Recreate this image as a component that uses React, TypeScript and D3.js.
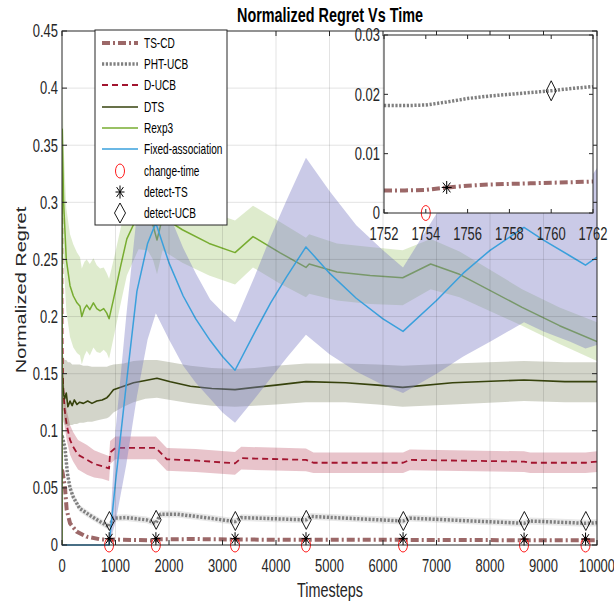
import React from 'react';
import * as d3 from 'd3';

// ---------------- DATA ----------------
const xTicks = [0, 1000, 2000, 3000, 4000, 5000, 6000, 7000, 8000, 9000, 10000];
const yTicks = [0, 0.05, 0.1, 0.15, 0.2, 0.25, 0.3, 0.35, 0.4, 0.45];
const insetXTicks = [1752, 1754, 1756, 1758, 1760, 1762];
const insetYTicks = [0, 0.01, 0.02, 0.03];

const legendNames = ['TS-CD', 'PHT-UCB', 'D-UCB', 'DTS', 'Rexp3', 'Fixed-association', 'change-time', 'detect-TS', 'detect-UCB'];

// TS-CD
const tscdT = [0, 5, 30, 56, 87, 150, 275, 460, 710, 880, 1000, 1754, 1800, 2500, 3234, 4560, 6374, 8636, 10000];
const tscdV = [0.065, 0.065, 0.058, 0.05, 0.031, 0.019, 0.0117, 0.0073, 0.005, 0.0045, 0.0048, 0.0039, 0.005, 0.0052, 0.0048, 0.0045, 0.0045, 0.0042, 0.0042];

// PHT-UCB
const phtT = [0, 5, 56, 100, 150, 210, 330, 520, 710, 880, 960, 1200, 1580, 1754, 1840, 2150, 2770, 3234, 3350, 4560, 4650, 6374, 6500, 8636, 8750, 9785, 10000];
const phtV = [0.095, 0.095, 0.085, 0.063, 0.05, 0.042, 0.032, 0.026, 0.0205, 0.016, 0.0235, 0.024, 0.022, 0.019, 0.027, 0.027, 0.0235, 0.0205, 0.024, 0.022, 0.025, 0.021, 0.0235, 0.019, 0.021, 0.019, 0.0195];
const phtSpread = [0, 0.004, 0.004, 0.004, 0.004, 0.004, 0.003, 0.003, 0.003, 0.003, 0.003, 0.003, 0.003, 0.003, 0.003, 0.003, 0.003, 0.003, 0.003, 0.003, 0.003, 0.003, 0.003, 0.003, 0.003, 0.003, 0.003];

// D-UCB
const ducbT = [0, 3, 10, 20, 50, 88, 150, 208, 300, 467, 600, 750, 880, 900, 1000, 1754, 1960, 2500, 3234, 3350, 4560, 4700, 6374, 6500, 8636, 8750, 9785, 10000];
const ducbV = [0.33, 0.32, 0.18, 0.14, 0.118, 0.105, 0.092, 0.086, 0.079, 0.0745, 0.071, 0.069, 0.067, 0.081, 0.085, 0.085, 0.075, 0.074, 0.0715, 0.076, 0.0745, 0.072, 0.072, 0.0745, 0.073, 0.072, 0.072, 0.073];
const ducbSpread = [0, 0.01, 0.015, 0.015, 0.014, 0.013, 0.013, 0.013, 0.013, 0.013, 0.012, 0.011, 0.011, 0.01, 0.01, 0.01, 0.01, 0.01, 0.01, 0.01, 0.01, 0.009, 0.009, 0.009, 0.009, 0.009, 0.009, 0.009];

// DTS
const dtsT = [0, 5, 25, 50, 80, 110, 150, 190, 230, 280, 330, 400, 480, 560, 650, 750, 840, 880, 962, 1150, 1337, 1560, 1775, 2025, 2400, 2800, 3234, 3600, 4000, 4560, 5300, 5900, 6368, 7300, 8636, 9400, 10000];
const dtsV = [0.15, 0.15, 0.133, 0.128, 0.133, 0.121, 0.126, 0.122, 0.127, 0.123, 0.125, 0.124, 0.126, 0.124, 0.126, 0.127, 0.129, 0.131, 0.136, 0.139, 0.142, 0.144, 0.146, 0.143, 0.139, 0.137, 0.136, 0.138, 0.14, 0.143, 0.142, 0.14, 0.138, 0.142, 0.1445, 0.143, 0.143];
const dtsHigh = [0.17, 0.17, 0.165, 0.162, 0.162, 0.16, 0.16, 0.158, 0.158, 0.158, 0.158, 0.157, 0.157, 0.156, 0.156, 0.156, 0.156, 0.157, 0.158, 0.159, 0.161, 0.162, 0.162, 0.16, 0.157, 0.155, 0.154, 0.155, 0.157, 0.159, 0.159, 0.158, 0.157, 0.159, 0.161, 0.16, 0.16];
const dtsLow = [0.12, 0.115, 0.108, 0.105, 0.105, 0.104, 0.105, 0.105, 0.106, 0.106, 0.107, 0.107, 0.108, 0.108, 0.109, 0.11, 0.111, 0.112, 0.116, 0.121, 0.125, 0.128, 0.129, 0.127, 0.124, 0.122, 0.121, 0.122, 0.123, 0.125, 0.125, 0.123, 0.121, 0.123, 0.126, 0.125, 0.125];

// Rexp3
const rexpT = [0, 5, 30, 80, 150, 212, 280, 337, 370, 420, 462, 520, 587, 650, 712, 780, 837, 880, 962, 1100, 1212, 1431, 1600, 1700, 1776, 1880, 2250, 2750, 3234, 3570, 4070, 4560, 4620, 5140, 5760, 6368, 6891, 7430, 8600, 9300, 10000];
const rexpV = [0, 0.364, 0.3, 0.25, 0.227, 0.218, 0.212, 0.209, 0.2, 0.207, 0.21, 0.206, 0.212, 0.207, 0.205, 0.207, 0.203, 0.198, 0.215, 0.245, 0.268, 0.29, 0.288, 0.28, 0.267, 0.287, 0.276, 0.264, 0.256, 0.27, 0.256, 0.243, 0.246, 0.239, 0.236, 0.234, 0.246, 0.237, 0.208, 0.192, 0.178];
const rexpSpread = [0, 0.06, 0.05, 0.045, 0.045, 0.045, 0.044, 0.043, 0.042, 0.041, 0.04, 0.04, 0.039, 0.038, 0.037, 0.036, 0.035, 0.035, 0.034, 0.033, 0.032, 0.031, 0.03, 0.03, 0.03, 0.029, 0.029, 0.028, 0.028, 0.027, 0.027, 0.026, 0.026, 0.025, 0.025, 0.024, 0.022, 0.02, 0.016, 0.016, 0.017];

// Fixed-association
const fixedT = [0, 880, 1000, 1200, 1400, 1600, 1754, 2000, 2265, 2500, 2770, 3000, 3234, 3600, 3900, 4200, 4560, 5000, 5500, 6000, 6374, 7000, 7500, 8000, 8636, 9000, 9500, 9785, 10000];
const fixedV = [0, 0, 0.055, 0.14, 0.222, 0.264, 0.282, 0.247, 0.218, 0.198, 0.179, 0.165, 0.153, 0.186, 0.212, 0.235, 0.261, 0.238, 0.216, 0.198, 0.187, 0.214, 0.238, 0.258, 0.278, 0.267, 0.253, 0.245, 0.252];
const fixedLow = [0, 0, 0.02, 0.07, 0.13, 0.18, 0.203, 0.18, 0.157, 0.142, 0.128, 0.116, 0.107, 0.128, 0.146, 0.164, 0.184, 0.167, 0.152, 0.14, 0.133, 0.15, 0.165, 0.178, 0.195, 0.187, 0.178, 0.172, 0.175];
const fixedHigh = [0, 0, 0.1, 0.2, 0.29, 0.33, 0.33, 0.29, 0.26, 0.238, 0.215, 0.204, 0.195, 0.235, 0.27, 0.302, 0.339, 0.31, 0.28, 0.258, 0.243, 0.29, 0.315, 0.34, 0.36, 0.345, 0.325, 0.315, 0.33];

// markers
const changeTimes = [880, 1754, 3234, 4560, 6374, 8636, 9785];
const detectTsT = [881, 1755, 3235, 4561, 6375, 8637, 9786];
const detectTsV = [0.0055, 0.0055, 0.0055, 0.0055, 0.0055, 0.0052, 0.0052];
const detectUcbT = [886, 1760, 3240, 4566, 6380, 8642, 9791];
const detectUcbV = [0.021, 0.022, 0.021, 0.022, 0.021, 0.021, 0.021];

// inset data
const insetT = [1752, 1753, 1754, 1755, 1756, 1757, 1758, 1759, 1760, 1761, 1762];
const insetPht = [0.0181, 0.0181, 0.0182, 0.0187, 0.0193, 0.0197, 0.02, 0.0203, 0.0206, 0.021, 0.0213];
const insetTscd = [0.0038, 0.0038, 0.0039, 0.0043, 0.0046, 0.0048, 0.0049, 0.005, 0.0051, 0.0052, 0.0053];
const insetChangeT = [1754];
const insetDetectTsT = [1755];
const insetDetectTsV = [0.0043];
const insetDetectUcbT = [1760];
const insetDetectUcbV = [0.0206];

// ---------------- STYLE ----------------
const SX = 0.72;
const FONT = "'Liberation Sans', Arial, Helvetica, sans-serif";
const AX = '#262626';
const C_TSCD = '#9C6868';
const C_PHT = '#808080';
const C_DUCB = '#A2142F';
const C_DTS = '#36420C';
const C_REXP = '#77AC30';
const C_FIXED = '#3AA0DC';
const C_FIXBAND = '#7B7BC2';

const styles = {
  tscd: { stroke: C_TSCD, width: 4, dash: '8 3 2 3' },
  pht: { stroke: C_PHT, width: 3.5, dash: '2.2 1.6' },
  ducb: { stroke: C_DUCB, width: 1.8, dash: '6 4' },
  dts: { stroke: C_DTS, width: 1.6, dash: undefined },
  rexp: { stroke: C_REXP, width: 1.5, dash: undefined },
  fixed: { stroke: C_FIXED, width: 1.5, dash: undefined },
};

function Txt({ x, y, anchor = 'middle', size = 18, weight = 'normal', rot = false, fill = AX, children }: any) {
  return (
    <text
      transform={`translate(${x},${y}) scale(${SX},1)${rot ? ' rotate(-90)' : ''}`}
      textAnchor={anchor}
      fontSize={size}
      fontWeight={weight}
      fontFamily={FONT}
      fill={fill}
    >
      {children}
    </text>
  );
}

const asterisk = (cx: number, cy: number, rx: number, ry: number) =>
  `M${cx - rx},${cy}L${cx + rx},${cy}M${cx},${cy - ry}L${cx},${cy + ry}` +
  `M${cx - rx * 0.75},${cy - ry * 0.75}L${cx + rx * 0.75},${cy + ry * 0.75}` +
  `M${cx - rx * 0.75},${cy + ry * 0.75}L${cx + rx * 0.75},${cy - ry * 0.75}`;
const diamond = (cx: number, cy: number, w: number, h: number) =>
  `M${cx},${cy - h}L${cx + w},${cy}L${cx},${cy + h}L${cx - w},${cy}Z`;

const fmtY = (v: number) => String(+v.toFixed(2));

export default function App() {
  const L = 62, R = 597, T = 31, B = 545;
  const x = d3.scaleLinear().domain([0, 10000]).range([L, R]);
  const y = d3.scaleLinear().domain([0, 0.45]).range([B, T]);

  const IL = 384, IR = 593, IT = 35, IB = 213;
  const xi = d3.scaleLinear().domain([1752, 1762]).range([IL, IR]);
  const yi = d3.scaleLinear().domain([0, 0.03]).range([IB, IT]);

  const linePath = (ts: number[], vs: number[], sx = x, sy = y) =>
    d3.line<number>().x((_, i) => sx(ts[i])).y((v) => sy(v))(vs) || '';
  const areaPath = (ts: number[], lo: number[], hi: number[]) =>
    d3.area<number>().x((_, i) => x(ts[i])).y0((_, i) => y(lo[i])).y1((_, i) => y(hi[i]))(ts.map((_, i) => i)) || '';

  const sub = (a: number[], s: number[]) => a.map((v, i) => Math.max(0, v - s[i]));
  const add = (a: number[], s: number[]) => a.map((v, i) => v + s[i]);

  const line = (d: string, st: any, key: string) => (
    <path key={key} d={d} fill="none" stroke={st.stroke} strokeWidth={st.width} strokeDasharray={st.dash} strokeLinejoin="round" />
  );

  const legendY = [43, 64, 85, 107, 128, 149, 171, 192, 213];
  const legendStyles = [styles.tscd, styles.pht, styles.ducb, styles.dts, styles.rexp, styles.fixed];

  return (
    <svg width={614} height={602} style={{ position: 'absolute', left: 0, top: 0, background: '#fff' }}>
      <rect x={0} y={0} width={614} height={602} fill="#fff" />
      <defs>
        <clipPath id="mainClip"><rect x={L} y={T} width={R - L} height={B - T + 2} /></clipPath>
        <clipPath id="insetClip"><rect x={IL} y={IT} width={IR - IL} height={IB - IT} /></clipPath>
      </defs>

      {/* bands and lines */}
      <g clipPath="url(#mainClip)">
        {line(linePath(tscdT, tscdV), styles.tscd, 'tscd')}
        <path d={areaPath(phtT, sub(phtV, phtSpread), add(phtV, phtSpread))} fill={C_PHT} fillOpacity={0.18} />
        {line(linePath(phtT, phtV), styles.pht, 'pht')}
        <path d={areaPath(ducbT, sub(ducbV, ducbSpread), add(ducbV, ducbSpread))} fill={C_DUCB} fillOpacity={0.25} />
        {line(linePath(ducbT, ducbV), styles.ducb, 'ducb')}
        <path d={areaPath(dtsT, dtsLow, dtsHigh)} fill={C_DTS} fillOpacity={0.22} />
        {line(linePath(dtsT, dtsV), styles.dts, 'dts')}
        <path d={areaPath(rexpT, sub(rexpV, rexpSpread), add(rexpV, rexpSpread))} fill={C_REXP} fillOpacity={0.24} />
        {line(linePath(rexpT, rexpV), styles.rexp, 'rexp')}
        <path d={areaPath(fixedT, fixedLow, fixedHigh)} fill={C_FIXBAND} fillOpacity={0.4} />
        {line(linePath(fixedT, fixedV), styles.fixed, 'fixed')}
      </g>

      {/* grid on top */}
      <g stroke={AX} strokeOpacity={0.13} strokeWidth={1}>
        {xTicks.slice(1, -1).map((t) => <line key={'gx' + t} x1={x(t)} x2={x(t)} y1={T} y2={B} />)}
        {yTicks.slice(1, -1).map((t) => <line key={'gy' + t} x1={L} x2={R} y1={y(t)} y2={y(t)} />)}
      </g>

      {/* markers */}
      {changeTimes.map((t) => (
        <ellipse key={'c' + t} cx={x(t)} cy={y(0)} rx={4.5} ry={7} fill="none" stroke="#FF0000" strokeWidth={0.9} />
      ))}
      {detectTsT.map((t, i) => (
        <g key={'a' + t}>
          <path d={asterisk(x(t), y(detectTsV[i]), 4.5, 6.5)} stroke="#000" strokeWidth={1} fill="none" />
          <circle cx={x(t)} cy={y(detectTsV[i])} r={1.6} fill="#000" />
        </g>
      ))}
      {detectUcbT.map((t, i) => (
        <path key={'d' + t} d={diamond(x(t), y(detectUcbV[i]), 5, 9.5)} stroke="#000" strokeWidth={0.9} fill="none" />
      ))}

      {/* main axes box */}
      <g stroke={AX} strokeWidth={1} fill="none">
        <rect x={L} y={T} width={R - L} height={B - T} />
        {xTicks.map((t) => (
          <g key={'tx' + t}>
            <line x1={x(t)} x2={x(t)} y1={B} y2={B - 5} />
            <line x1={x(t)} x2={x(t)} y1={T} y2={T + 5} />
          </g>
        ))}
        {yTicks.map((t) => (
          <g key={'ty' + t}>
            <line x1={L} x2={L + 5} y1={y(t)} y2={y(t)} />
            <line x1={R} x2={R - 5} y1={y(t)} y2={y(t)} />
          </g>
        ))}
      </g>
      {xTicks.map((t) => (
        <Txt key={'lx' + t} x={x(t)} y={572} size={18}>{String(t)}</Txt>
      ))}
      {yTicks.map((t) => (
        <Txt key={'ly' + t} x={58} y={y(t) + 6.3} anchor="end" size={18}>{fmtY(t)}</Txt>
      ))}

      {/* titles */}
      <Txt x={330} y={22} size={20} weight="bold" fill="#000">Normalized Regret Vs Time</Txt>
      <Txt x={330} y={597} size={20}>Timesteps</Txt>
      <Txt x={26} y={290} size={20} rot>Normalized Regret</Txt>

      {/* legend */}
      <rect x={95} y={30} width={132} height={195} fill="#fff" stroke={AX} strokeWidth={1} />
      {legendStyles.map((st, i) => (
        <line key={'ll' + i} x1={102} x2={138} y1={legendY[i]} y2={legendY[i]} stroke={st.stroke} strokeWidth={st.width} strokeDasharray={st.dash} />
      ))}
      <ellipse cx={120} cy={legendY[6]} rx={4.5} ry={7} fill="none" stroke="#FF0000" strokeWidth={0.9} />
      <path d={asterisk(120, legendY[7], 4.5, 6.5)} stroke="#000" strokeWidth={1} fill="none" />
      <path d={diamond(120, legendY[8], 5.5, 10)} stroke="#000" strokeWidth={0.9} fill="none" />
      {legendNames.map((n, i) => (
        <Txt key={'ln' + i} x={144} y={legendY[i] + 5} anchor="start" size={14} fill="#000">{n}</Txt>
      ))}

      {/* inset */}
      <rect x={IL} y={IT} width={IR - IL} height={IB - IT} fill="#fff" />
      <g clipPath="url(#insetClip)">
        {line(linePath(insetT, insetPht, xi, yi), styles.pht, 'ipht')}
        {line(linePath(insetT, insetTscd, xi, yi), styles.tscd, 'itscd')}
      </g>
      {insetChangeT.map((t) => (
        <ellipse key={'ic' + t} cx={xi(t)} cy={yi(0)} rx={4.5} ry={7.5} fill="none" stroke="#FF0000" strokeWidth={0.9} />
      ))}
      {insetDetectTsT.map((t, i) => (
        <g key={'ia' + t}>
          <path d={asterisk(xi(t), yi(insetDetectTsV[i]), 5, 6.5)} stroke="#000" strokeWidth={1} fill="none" />
          <circle cx={xi(t)} cy={yi(insetDetectTsV[i])} r={1.6} fill="#000" />
        </g>
      ))}
      {insetDetectUcbT.map((t, i) => (
        <path key={'id' + t} d={diamond(xi(t), yi(insetDetectUcbV[i]), 5, 10)} stroke="#000" strokeWidth={0.9} fill="none" />
      ))}
      <g stroke={AX} strokeWidth={1} fill="none">
        <rect x={IL} y={IT} width={IR - IL} height={IB - IT} />
        {insetXTicks.map((t) => (
          <g key={'itx' + t}>
            <line x1={xi(t)} x2={xi(t)} y1={IB} y2={IB - 4} />
            <line x1={xi(t)} x2={xi(t)} y1={IT} y2={IT + 4} />
          </g>
        ))}
        {insetYTicks.map((t) => (
          <g key={'ity' + t}>
            <line x1={IL} x2={IL + 4} y1={yi(t)} y2={yi(t)} />
            <line x1={IR} x2={IR - 4} y1={yi(t)} y2={yi(t)} />
          </g>
        ))}
      </g>
      {insetXTicks.map((t) => (
        <Txt key={'ilx' + t} x={xi(t)} y={240} size={18}>{String(t)}</Txt>
      ))}
      {insetYTicks.map((t) => (
        <Txt key={'ily' + t} x={380} y={yi(t) + 6.3} anchor="end" size={18}>{fmtY(t)}</Txt>
      ))}
    </svg>
  );
}
